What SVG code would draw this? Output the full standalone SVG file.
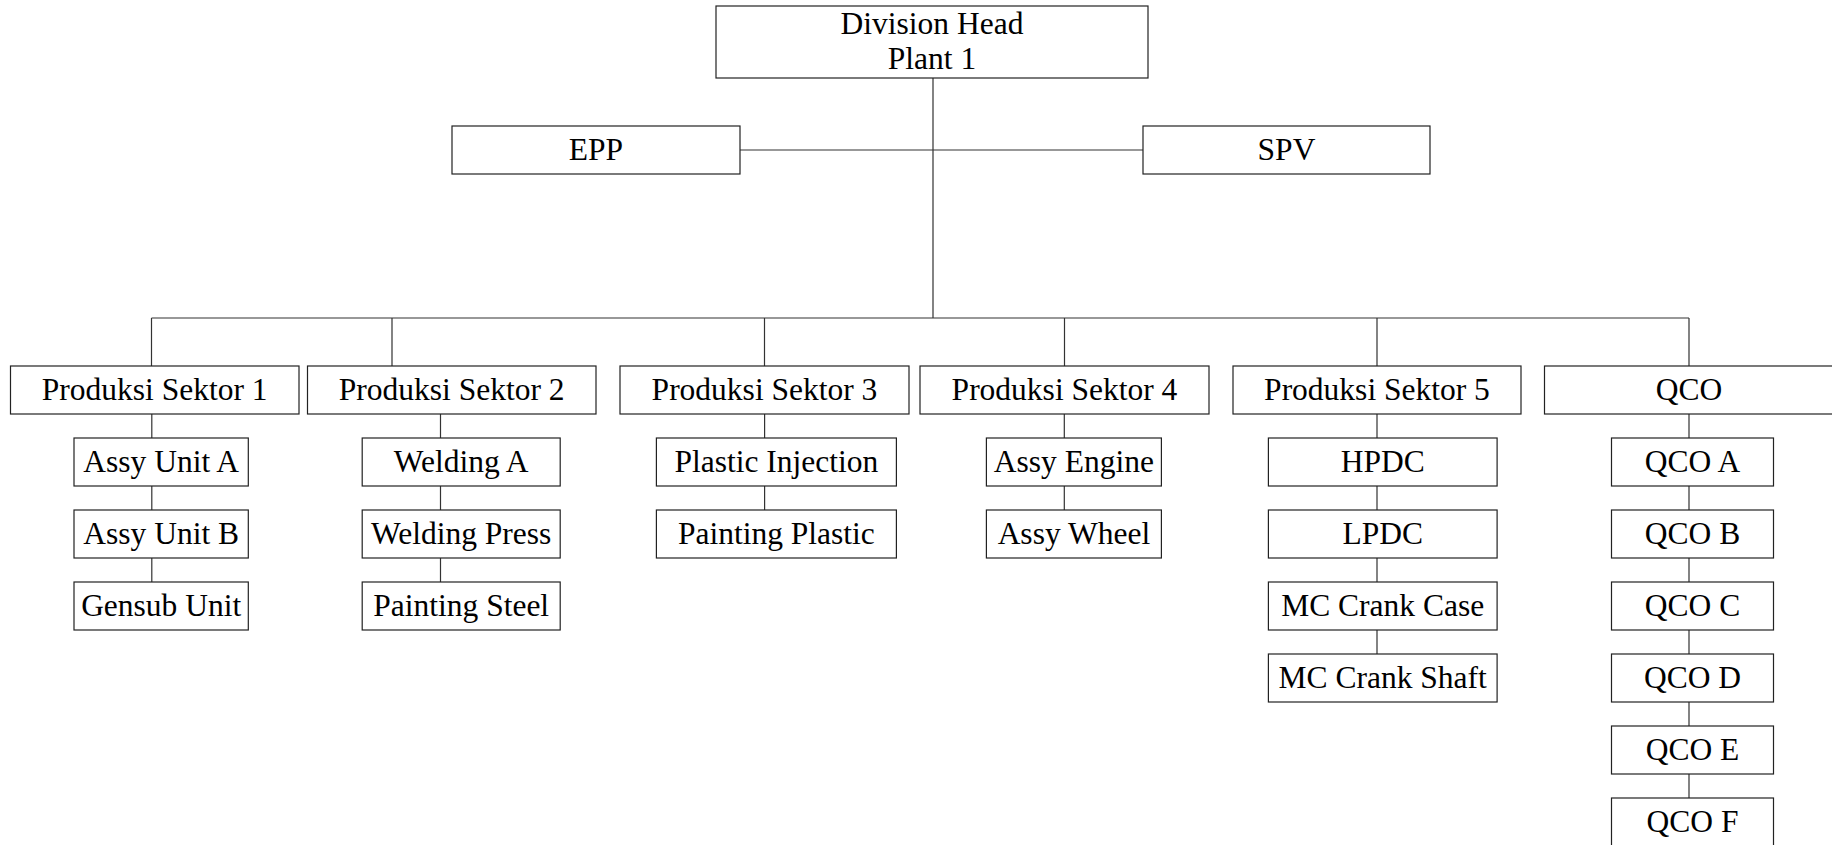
<svg xmlns="http://www.w3.org/2000/svg" width="1832" height="845" viewBox="0 0 1832 845">
<style>
.b{fill:#fff;stroke:#222;stroke-width:1.2}
.t{font-family:"Liberation Serif","Times New Roman",serif;font-size:31.5px;fill:#000;text-anchor:middle}
.c{stroke:#333;stroke-width:1.2;fill:none}
</style>
<rect width="1832" height="845" fill="#fff"/>
<g id="connectors">
<path class="c" d="M933 78V318M740 150H1143M151.5 318H1689M151.5 318V366M392 318V366M764.5 318V366M1064.5 318V366M1377 318V366M1689 318V366"/>
<path class="c" d="M151.8 414V582M440.5 414V582M764.6 414V510M1064.3 414V510M1377 414V654M1689 414V798"/>
</g>
<g id="division-head"><rect class="b" x="716" y="6" width="432" height="72"/><text class="t" x="932" y="33.5">Division Head</text><text class="t" x="932" y="69">Plant 1</text></g>
<g id="epp"><rect class="b" x="452" y="126" width="288" height="48"/><text class="t" x="596" y="160">EPP</text></g>
<g id="spv"><rect class="b" x="1143" y="126" width="287" height="48"/><text class="t" x="1286.5" y="160">SPV</text></g>
<g id="ps1"><rect class="b" x="10.5" y="366" width="288.5" height="48"/><text class="t" x="154.7" y="399.5">Produksi Sektor 1</text></g>
<g id="ps2"><rect class="b" x="307.5" y="366" width="288.5" height="48"/><text class="t" x="451.7" y="399.5">Produksi Sektor 2</text></g>
<g id="ps3"><rect class="b" x="620" y="366" width="289" height="48"/><text class="t" x="764.5" y="399.5">Produksi Sektor 3</text></g>
<g id="ps4"><rect class="b" x="920" y="366" width="289" height="48"/><text class="t" x="1064.5" y="399.5">Produksi Sektor 4</text></g>
<g id="ps5"><rect class="b" x="1233" y="366" width="288" height="48"/><text class="t" x="1377" y="399.5">Produksi Sektor 5</text></g>
<g id="qco"><rect class="b" x="1544.5" y="366" width="290" height="48"/><text class="t" x="1689" y="399.5">QCO</text></g>
<g id="assy-unit-a"><rect class="b" x="74" y="438" width="174.3" height="48"/><text class="t" x="161.2" y="471.5">Assy Unit A</text></g>
<g id="assy-unit-b"><rect class="b" x="74" y="510" width="174.3" height="48"/><text class="t" x="161.2" y="543.5">Assy Unit B</text></g>
<g id="gensub-unit"><rect class="b" x="74" y="582" width="174.3" height="48"/><text class="t" x="161.2" y="615.5">Gensub Unit</text></g>
<g id="welding-a"><rect class="b" x="362.2" y="438" width="198" height="48"/><text class="t" x="461.2" y="471.5">Welding A</text></g>
<g id="welding-press"><rect class="b" x="362.2" y="510" width="198" height="48"/><text class="t" x="461.2" y="543.5">Welding Press</text></g>
<g id="painting-steel"><rect class="b" x="362.2" y="582" width="198" height="48"/><text class="t" x="461.2" y="615.5">Painting Steel</text></g>
<g id="plastic-injection"><rect class="b" x="656.4" y="438" width="240" height="48"/><text class="t" x="776.4" y="471.5">Plastic Injection</text></g>
<g id="painting-plastic"><rect class="b" x="656.4" y="510" width="240" height="48"/><text class="t" x="776.4" y="543.5">Painting Plastic</text></g>
<g id="assy-engine"><rect class="b" x="986.4" y="438" width="175" height="48"/><text class="t" x="1073.9" y="471.5">Assy Engine</text></g>
<g id="assy-wheel"><rect class="b" x="986.4" y="510" width="175" height="48"/><text class="t" x="1073.9" y="543.5">Assy Wheel</text></g>
<g id="hpdc"><rect class="b" x="1268.4" y="438" width="228.7" height="48"/><text class="t" x="1382.7" y="471.5">HPDC</text></g>
<g id="lpdc"><rect class="b" x="1268.4" y="510" width="228.7" height="48"/><text class="t" x="1382.7" y="543.5">LPDC</text></g>
<g id="mc-crank-case"><rect class="b" x="1268.4" y="582" width="228.7" height="48"/><text class="t" x="1382.7" y="615.5">MC Crank Case</text></g>
<g id="mc-crank-shaft"><rect class="b" x="1268.4" y="654" width="228.7" height="48"/><text class="t" x="1382.7" y="687.5">MC Crank Shaft</text></g>
<g id="qco-a"><rect class="b" x="1611.5" y="438" width="162" height="48"/><text class="t" x="1692.5" y="471.5">QCO A</text></g>
<g id="qco-b"><rect class="b" x="1611.5" y="510" width="162" height="48"/><text class="t" x="1692.5" y="543.5">QCO B</text></g>
<g id="qco-c"><rect class="b" x="1611.5" y="582" width="162" height="48"/><text class="t" x="1692.5" y="615.5">QCO C</text></g>
<g id="qco-d"><rect class="b" x="1611.5" y="654" width="162" height="48"/><text class="t" x="1692.5" y="687.5">QCO D</text></g>
<g id="qco-e"><rect class="b" x="1611.5" y="726" width="162" height="48"/><text class="t" x="1692.5" y="759.5">QCO E</text></g>
<g id="qco-f"><rect class="b" x="1611.5" y="798" width="162" height="48"/><text class="t" x="1692.5" y="831.5">QCO F</text></g>
</svg>
